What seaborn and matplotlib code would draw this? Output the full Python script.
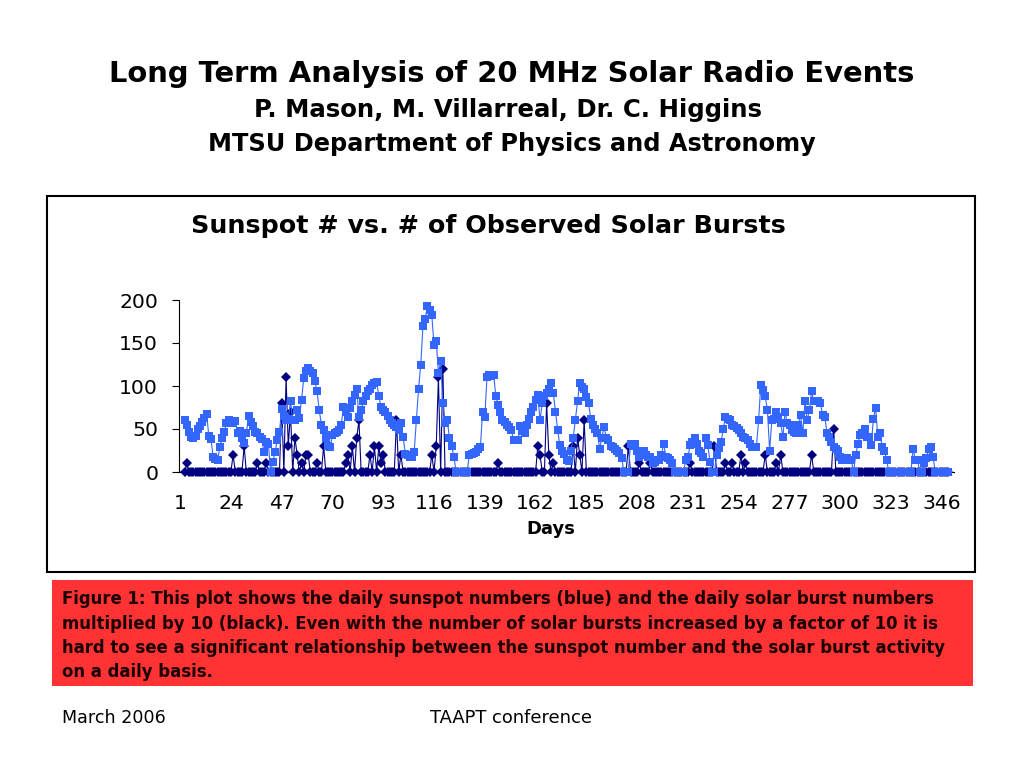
import numpy as np
import pandas as pd
import seaborn as sns
import matplotlib.pyplot as plt
from matplotlib.patches import Rectangle

# daily sunspot numbers (blue), starting on day 3
first_day = 3
sunspots = [
    61, 55, 47, 41, 40, 42, 50, 54, 58, 63,
    68, 42, 38, 17, 15, 14, 29, 39, 47, 57,
    60, 58, 57, 59, 45, 48, 40, 34, 45, 65,
    58, 54, 47, 45, 41, 38, 23, 35, 32, 0,
    12, 23, 37, 47, 73, 65, 60, 62, 82, 60,
    60, 72, 63, 84, 109, 118, 121, 118, 115, 106,
    94, 72, 55, 49, 39, 30, 29, 43, 45, 47,
    49, 55, 76, 70, 64, 75, 82, 90, 97, 64,
    72, 82, 88, 94, 97, 101, 103, 105, 88, 76,
    72, 70, 65, 60, 57, 55, 52, 49, 57, 41,
    21, 20, 18, 18, 23, 60, 97, 125, 170, 178,
    193, 188, 182, 148, 152, 115, 129, 80, 57, 60,
    39, 30, 18, 0, 0, 0, 0, 0, 0, 20,
    21, 22, 23, 27, 29, 70, 64, 111, 113, 112,
    113, 88, 78, 70, 60, 58, 55, 52, 49, 37,
    37, 37, 53, 48, 45, 55, 62, 70, 76, 84,
    90, 60, 80, 88, 92, 96, 103, 92, 70, 49,
    31, 25, 21, 14, 13, 25, 39, 60, 82, 104,
    99, 97, 87, 80, 62, 55, 50, 45, 27, 40,
    52, 40, 37, 30, 29, 27, 25, 22, 16, 0,
    0, 0, 33, 30, 33, 25, 18, 22, 25, 20,
    18, 18, 10, 12, 14, 14, 20, 33, 18, 16,
    14, 10, 0, 0, 0, 0, 0, 14, 18, 31,
    35, 39, 33, 25, 22, 18, 39, 31, 12, 0,
    0, 20, 28, 35, 50, 64, 62, 60, 55, 53,
    51, 49, 45, 41, 39, 37, 33, 29, 29, 29,
    60, 101, 95, 88, 72, 25, 60, 62, 70, 64,
    57, 41, 70, 57, 55, 49, 47, 45, 55, 66,
    45, 82, 60, 72, 94, 82, 82, 82, 80, 66,
    64, 45, 41, 35, 29, 27, 25, 18, 14, 14,
    16, 14, 14, 0, 20, 33, 43, 45, 50, 41,
    41, 31, 62, 75, 41, 45, 29, 25, 14, 0,
    0, 0, 0, 0, 0, 0, 0, 0, 0, 0,
    27, 14, 14, 0, 0, 10, 16, 27, 29, 18,
    0, 0, 0, 0, 0, 0, 0,
]

# days with observed bursts (count x 10), every other day is 0
burst_days = [4, 25, 30, 36, 40, 47, 49, 50, 51, 53, 54, 56, 58, 59, 63, 66,
              76, 77, 79, 81, 82, 87, 89, 91, 92, 93, 99, 101, 115, 117, 118,
              120, 145, 163, 164, 167, 168, 170, 179, 181, 182, 184, 204, 209,
              214, 232, 243, 248, 251, 255, 257, 266, 271, 273, 287, 297]
burst_x10 = [10, 20, 30, 10, 10, 80, 110, 30, 70, 40, 20, 10, 20, 20, 10, 30,
             10, 20, 30, 40, 60, 20, 30, 30, 10, 20, 60, 20, 20, 30, 110,
             120, 10, 30, 20, 80, 20, 10, 30, 40, 20, 60, 30, 10,
             10, 10, 30, 10, 10, 20, 10, 20, 10, 20, 20, 50]

tick_days = [1, 24, 47, 70, 93, 116, 139, 162, 185, 208, 231, 254, 277, 300, 323, 346]
y_ticks = [0, 50, 100, 150, 200]

title_lines = ["Long Term Analysis of 20 MHz Solar Radio Events",
               "P. Mason, M. Villarreal, Dr. C. Higgins",
               "MTSU Department of Physics and Astronomy"]
caption_lines = [
    "Figure 1: This plot shows the daily sunspot numbers (blue) and the daily solar burst numbers",
    "multiplied by 10 (black). Even with the number of solar bursts increased by a factor of 10 it is",
    "hard to see a significant relationship between the sunspot number and the solar burst activity",
    "on a daily basis.",
]

days = np.arange(first_day, first_day + len(sunspots))
bursts = np.zeros(len(days))
for d, v in zip(burst_days, burst_x10):
    bursts[d - first_day] = v
df = pd.DataFrame({"day": days, "sunspots": sunspots, "bursts": bursts})

sns.set_style("white")
plt.rcParams["font.family"] = ["DejaVu Sans"]
plt.rcParams["text.color"] = "black"
plt.rcParams["xtick.color"] = "black"
plt.rcParams["ytick.color"] = "black"

W, H = 1024, 768
fig = plt.figure(figsize=(W / 100, H / 100), dpi=100)

def fx(px):
    return px / W

def fy(py):
    return 1 - py / H

# chart frame and red caption box
fig.add_artist(Rectangle((fx(47), fy(572)), fx(975 - 47), (572 - 196) / H,
                         transform=fig.transFigure, fill=False, lw=1.5, edgecolor="black"))
fig.add_artist(Rectangle((fx(52), fy(686)), fx(973 - 52), (686 - 580) / H,
                         transform=fig.transFigure, facecolor="#FF3333", edgecolor="none"))

ax = fig.add_axes([fx(179), fy(472), fx(954 - 179), (472 - 300) / H])

sns.lineplot(data=df, x="day", y="bursts", ax=ax, color="#000080", marker="D",
             markersize=4.8, markeredgewidth=0, linewidth=0.8, clip_on=False, zorder=3)
sns.lineplot(data=df, x="day", y="sunspots", ax=ax, color="#3366FF", marker="s",
             markersize=6.0, markeredgewidth=0, linewidth=0.8, clip_on=False, zorder=4)

ax.set_xlim(0.5, 351.5)
ax.set_ylim(0, 200)
ax.set_yticks(y_ticks)
ax.set_xticks(tick_days)
ax.set_xticklabels([str(t) for t in tick_days])
ax.set_xticks(np.arange(0.5, 352, 1), minor=True)
ax.tick_params(axis="x", which="major", length=0, pad=16, labelsize=14.7, labelcolor="black")
ax.tick_params(axis="x", which="minor", length=4.7, width=0.6, color="black", direction="out")
ax.tick_params(axis="y", which="major", length=5, width=0.8, pad=10, labelsize=14.7,
               color="black", labelcolor="black", direction="out", left=True)
ax.set_xlabel("")
ax.set_ylabel("")
for s in ["top", "right"]:
    ax.spines[s].set_visible(False)
for s in ["left", "bottom"]:
    ax.spines[s].set_color("black")
    ax.spines[s].set_linewidth(0.8)

# texts
fig.text(0.5, fy(81.5), title_lines[0], ha="center", va="baseline", fontsize=20.9,
         fontweight="bold", color="black")
fig.text(fx(508), fy(117.5), title_lines[1], ha="center", va="baseline", fontsize=17.6,
         fontweight="bold", color="black")
fig.text(0.5, fy(151), title_lines[2], ha="center", va="baseline", fontsize=17.3,
         fontweight="bold", color="black")
fig.text(fx(488), fy(233), "Sunspot # vs. # of Observed Solar Bursts", ha="center", va="baseline",
         fontsize=18.3, fontweight="bold", color="black")
fig.text(fx(551), fy(534), "Days", ha="center", va="baseline", fontsize=13, fontweight="bold",
         color="black")

for line, base in zip(caption_lines, [604, 629, 653, 677]):
    fig.text(fx(62), fy(base), line, ha="left", va="baseline", fontsize=11.9,
             fontweight="bold", color="#1a0000")

fig.text(fx(62), fy(723), "March 2006", ha="left", va="baseline", fontsize=12.6, color="black")
fig.text(fx(430), fy(723), "TAAPT conference", ha="left", va="baseline", fontsize=12.9, color="black")

fig.savefig("out.png", dpi=100)
